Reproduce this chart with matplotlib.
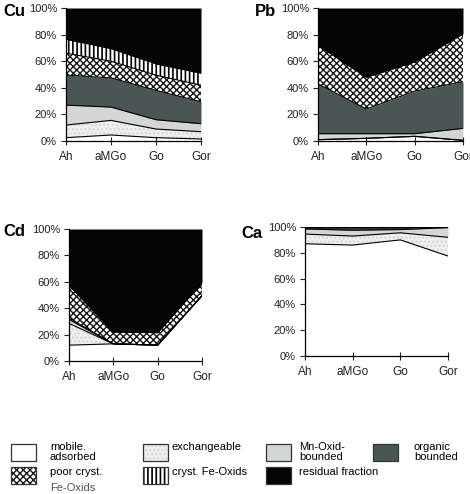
import matplotlib.pyplot as plt
import numpy as np
from matplotlib.patches import Rectangle

plt.rcParams['font.family'] = ['Liberation Sans', 'DejaVu Sans']
plt.rcParams['hatch.linewidth'] = 0.9

horizons = ['Ah', 'aMGo', 'Go', 'Gor']
ytick_labels = ['0%', '20%', '40%', '60%', '80%', '100%']

# fractions in stacking order (percent of total), bottom to top
fraction_names = ['mobile', 'exchangeable', 'Mn', 'organic', 'poor', 'cryst', 'residual']

cu = [[2.5, 4.5, 2.5, 1.5],
      [9.5, 11, 6.5, 5.5],
      [15, 10, 7, 6],
      [22.5, 22, 22, 16.5],
      [16.5, 12.5, 11.5, 12.5],
      [10.5, 9.5, 8.5, 9],
      [23.5, 30.5, 42, 49]]

pb = [[1, 2, 3.5, 0.5],
      [0, 0, 0, 0],
      [4.5, 3.5, 2, 9],
      [37.5, 18.5, 32, 35],
      [29, 24, 22, 36],
      [0, 0, 0, 0],
      [28, 52, 40.5, 19.5]]

cd = [[12, 13, 12, 49.5],
      [16.5, 0, 0, 0],
      [3, 0, 0, 0],
      [1, 0, 0, 0],
      [25, 9, 9.5, 10],
      [0, 0, 0, 0],
      [42.5, 78, 78.5, 40.5]]

ca = [[87, 86, 90, 77.5],
      [7.5, 7, 5.5, 14.5],
      [4, 4.5, 2.5, 7.5],
      [1, 2, 1.5, 0.5],
      [0, 0, 0, 0],
      [0, 0, 0, 0],
      [0.5, 0.5, 0.5, 0]]

legend_labels = ['mobile.\nadsorbed', 'exchangeable', 'Mn-Oxid-\nbounded', 'organic\nbounded',
                 'poor cryst.', 'cryst. Fe-Oxids', 'residual fraction']

# style per fraction: facecolor, hatch, hatch colour
styles = {
    'mobile': ('white', None, 'black'),
    'exchangeable': ('#eeeeee', '....', '#d6d6d6'),
    'Mn': ('#d4d6d5', None, 'black'),
    'organic': ('#4b5654', None, 'black'),
    'poor': ('white', 'xxxxx', '#151515'),
    'cryst': ('white', '||||', 'black'),
    'residual': ('#050505', None, 'black'),
}
hatch_widths = {'cryst': 1.2, 'poor': 1.0}

W, H = 470, 494
fig = plt.figure(figsize=(W / 100, H / 100), dpi=100)


def px_box(left, top, right, bottom):
    return [left / W, 1 - bottom / H, (right - left) / W, (bottom - top) / H]


def add_fill(ax, x, lower, upper, name):
    fc, hatch, hc = styles[name]
    with plt.rc_context({'hatch.linewidth': hatch_widths.get(name, 0.9)}):
        ax.fill_between(x, lower, upper, facecolor=fc, hatch=hatch,
                        edgecolor=hc, linewidth=0)


def draw_panel(box, data, title, title_xy):
    ax = fig.add_axes(px_box(*box))
    x = np.arange(len(horizons))
    vals = np.array(data, dtype=float)
    tops = np.cumsum(vals, axis=0)
    lower = np.zeros(len(horizons))
    for i, name in enumerate(fraction_names):
        add_fill(ax, x, lower, tops[i], name)
        lower = tops[i]
    for i in range(len(fraction_names) - 1):
        ax.plot(x, tops[i], color='black', lw=0.8)
    ax.set_xlim(0, 3)
    ax.set_ylim(0, 100)
    ax.set_xticks(x)
    ax.set_xticklabels(horizons, fontsize=8.5)
    ax.set_yticks(np.arange(0, 101, 20))
    ax.set_yticklabels(ytick_labels, fontsize=8)
    ax.tick_params(axis='y', direction='out', length=3.5, width=0.8, pad=3, colors='#222222')
    ax.tick_params(axis='x', direction='inout', length=6, width=0.8, pad=4.5, colors='#222222')
    for s in ['top', 'right']:
        ax.spines[s].set_visible(False)
    for s in ['left', 'bottom']:
        ax.spines[s].set_linewidth(0.9)
    fig.text(title_xy[0] / W, 1 - title_xy[1] / H, title, fontsize=12,
             fontweight='bold', ha='left', va='center')
    return ax


draw_panel((66, 8, 201, 141), cu, 'Cu', (3, 11))
draw_panel((318, 8, 463, 141), pb, 'Pb', (255, 12))
draw_panel((69, 229, 202, 361), cd, 'Cd', (3, 232))
draw_panel((305, 227, 448, 356), ca, 'Ca', (241, 233))

# legend drawn by hand at the bottom
swatch_pos = [(11, 444), (143, 444), (266, 444), (373, 444),
              (11, 467), (143, 467), (266, 467)]
text_pos = [(50, 442), (172, 442), (299, 442), (414, 442),
            (50, 467), (172, 467), (299, 467)]
legend_order = ['mobile', 'exchangeable', 'Mn', 'organic', 'poor', 'cryst', 'residual']
sw, sh = 25, 17
for name, (sx, sy), (tx, ty), lab in zip(legend_order, swatch_pos, text_pos, legend_labels):
    fc, hatch, hc = styles[name]
    b = px_box(sx, sy, sx + sw, sy + sh)
    with plt.rc_context({'hatch.linewidth': hatch_widths.get(name, 0.9)}):
        r = Rectangle((b[0], b[1]), b[2], b[3], transform=fig.transFigure,
                      facecolor=fc, hatch=hatch, edgecolor=hc, linewidth=0)
    fig.add_artist(r)
    fig.add_artist(Rectangle((b[0], b[1]), b[2], b[3], transform=fig.transFigure,
                             facecolor='none', edgecolor='#333333', linewidth=0.9))
    fig.text(tx / W, 1 - ty / H, lab, fontsize=8, ha='left', va='top', linespacing=0.95)

fig.text(50 / W, 1 - 483 / H, 'Fe-Oxids', fontsize=8, ha='left', va='top', color='#555555')

fig.savefig('out.png', dpi=100)
